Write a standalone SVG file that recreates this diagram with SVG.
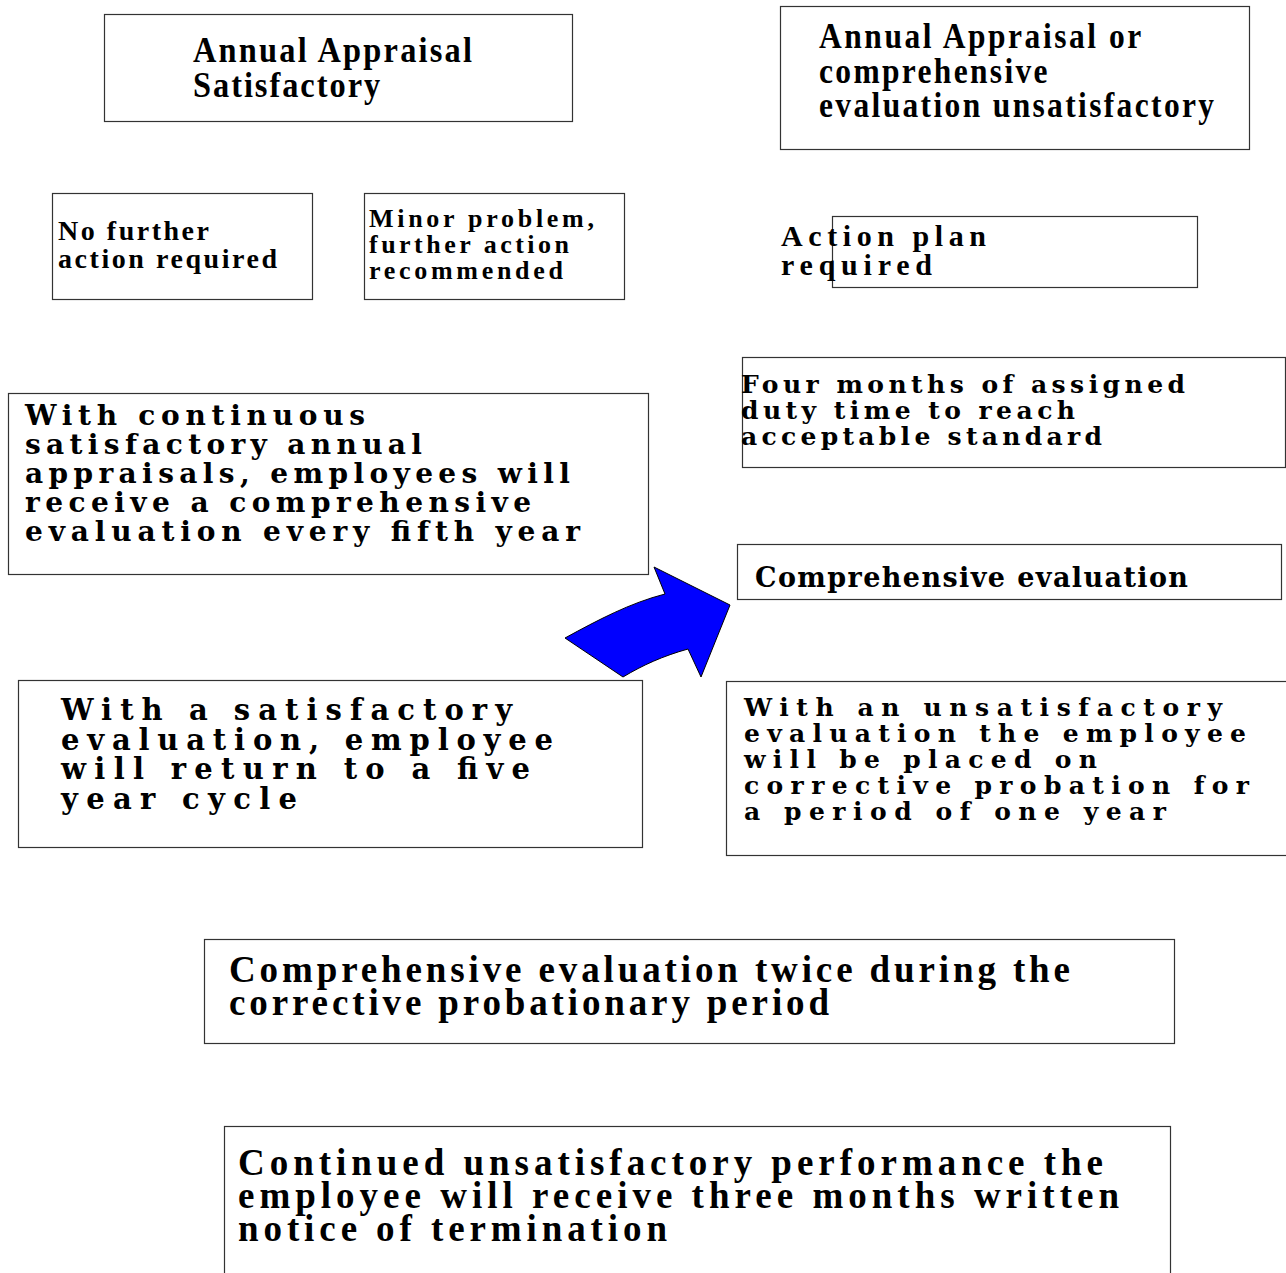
<svg xmlns="http://www.w3.org/2000/svg" width="1286" height="1273" viewBox="0 0 1286 1273">
<style>
.box{fill:#fff;stroke:#333;stroke-width:1.2}
.t{font-family:"Liberation Serif","Times New Roman",serif;font-weight:bold;fill:#000}
.wide{font-family:"DejaVu Serif","Liberation Serif",serif;font-weight:bold;fill:#000}
.arrow{fill:#0000ff;stroke:#000;stroke-width:1}
</style>
<rect width="1286" height="1273" fill="#fff"/>
<g id="n-annual-satisfactory">
<rect class="box" x="104.5" y="14.5" width="468" height="107"/>
<text class="t" font-size="36" transform="translate(193,62) scale(0.9,1)"><tspan x="0" y="0" textLength="310" lengthAdjust="spacing">Annual Appraisal</tspan><tspan x="0" y="35" textLength="208" lengthAdjust="spacing">Satisfactory</tspan></text>
</g>
<g id="n-annual-unsatisfactory">
<rect class="box" x="780.5" y="6.5" width="469" height="143"/>
<text class="t" font-size="35" transform="translate(819,48) scale(0.9,1)"><tspan x="0" y="0" textLength="358" lengthAdjust="spacing">Annual Appraisal or</tspan><tspan x="0" y="35" textLength="254" lengthAdjust="spacing">comprehensive</tspan><tspan x="0" y="69" textLength="439" lengthAdjust="spacing">evaluation unsatisfactory</tspan></text>
</g>
<g id="n-no-further">
<rect class="box" x="52.5" y="193.5" width="260" height="106"/>
<text class="t" font-size="28"><tspan x="58" y="240" textLength="151" lengthAdjust="spacing">No further</tspan><tspan x="58" y="268" textLength="219" lengthAdjust="spacing">action required</tspan></text>
</g>
<g id="n-minor-problem">
<rect class="box" x="364.5" y="193.5" width="260" height="106"/>
<text class="t" font-size="26"><tspan x="369" y="227" textLength="225" lengthAdjust="spacing">Minor problem,</tspan><tspan x="369" y="253" textLength="200" lengthAdjust="spacing">further action</tspan><tspan x="369" y="279" textLength="194" lengthAdjust="spacing">recommended</tspan></text>
</g>
<g id="n-action-plan">
<rect class="box" x="832.5" y="216.5" width="365" height="71"/>
<text class="t" font-size="30"><tspan x="781" y="246" textLength="205" lengthAdjust="spacing">Action plan</tspan><tspan x="781" y="275" textLength="151" lengthAdjust="spacing">required</tspan></text>
</g>
<g id="n-four-months">
<rect class="box" x="742.5" y="357.5" width="543" height="110"/>
<text class="wide" font-size="25"><tspan x="741" y="393" textLength="444" lengthAdjust="spacing">Four months of assigned</tspan><tspan x="741" y="419" textLength="334" lengthAdjust="spacing">duty time to reach</tspan><tspan x="741" y="445" textLength="361" lengthAdjust="spacing">acceptable standard</tspan></text>
</g>
<g id="n-comprehensive">
<rect class="box" x="737.5" y="544.5" width="544" height="55"/>
<text class="wide" font-size="27"><tspan x="755" y="587" textLength="433" lengthAdjust="spacing">Comprehensive evaluation</tspan></text>
</g>
<g id="n-continuous">
<rect class="box" x="8.5" y="393.5" width="640" height="181"/>
<text class="wide" font-size="28"><tspan x="25" y="425" textLength="340" lengthAdjust="spacing">With continuous</tspan><tspan x="25" y="454" textLength="397" lengthAdjust="spacing">satisfactory annual</tspan><tspan x="25" y="483" textLength="545" lengthAdjust="spacing">appraisals, employees will</tspan><tspan x="25" y="512" textLength="506" lengthAdjust="spacing">receive a comprehensive</tspan><tspan x="25" y="541" textLength="555" lengthAdjust="spacing">evaluation every fifth year</tspan></text>
</g>
<g id="n-satisfactory-eval">
<rect class="box" x="18.5" y="680.5" width="624" height="167"/>
<text class="wide" font-size="29"><tspan x="61" y="720" textLength="451" lengthAdjust="spacing">With a satisfactory</tspan><tspan x="61" y="750" textLength="492" lengthAdjust="spacing">evaluation, employee</tspan><tspan x="61" y="779" textLength="469" lengthAdjust="spacing">will return to a five</tspan><tspan x="61" y="809" textLength="236" lengthAdjust="spacing">year cycle</tspan></text>
</g>
<g id="n-unsatisfactory-eval">
<rect class="box" x="726.5" y="681.5" width="562" height="174"/>
<text class="wide" font-size="25"><tspan x="744" y="716" textLength="478" lengthAdjust="spacing">With an unsatisfactory</tspan><tspan x="744" y="742" textLength="502" lengthAdjust="spacing">evaluation the employee</tspan><tspan x="744" y="768" textLength="353" lengthAdjust="spacing">will be placed on</tspan><tspan x="744" y="794" textLength="505" lengthAdjust="spacing">corrective probation for</tspan><tspan x="744" y="820" textLength="422" lengthAdjust="spacing">a period of one year</tspan></text>
</g>
<g id="n-twice">
<rect class="box" x="204.5" y="939.5" width="970" height="104"/>
<text class="t" font-size="37"><tspan x="229" y="982" textLength="841" lengthAdjust="spacing">Comprehensive evaluation twice during the</tspan><tspan x="229" y="1015" textLength="600" lengthAdjust="spacing">corrective probationary period</tspan></text>
</g>
<g id="n-termination">
<rect class="box" x="224.5" y="1126.5" width="946" height="160"/>
<text class="t" font-size="37"><tspan x="238" y="1175" textLength="865" lengthAdjust="spacing">Continued unsatisfactory performance the</tspan><tspan x="238" y="1208" textLength="881" lengthAdjust="spacing">employee will receive three months written</tspan><tspan x="238" y="1241" textLength="429" lengthAdjust="spacing">notice of termination</tspan></text>
</g>
<g id="connectors">
<path class="arrow" d="M565,638 C598,620 630,603 665,594 L654,567 L730,605 L701,677 L688,649 C663,656 643,665 623,677 Z"/>
</g>
</svg>
